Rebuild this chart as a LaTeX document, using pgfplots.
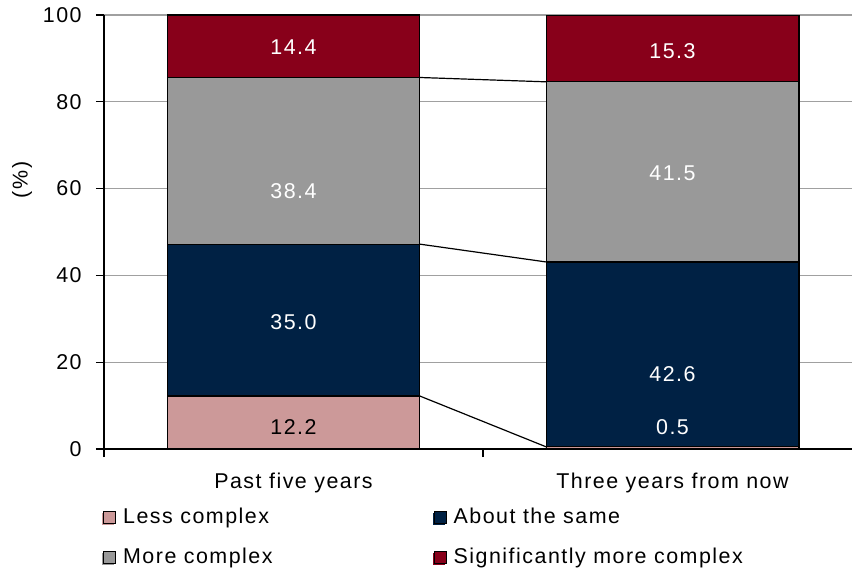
\documentclass[border=0pt]{standalone}
\usepackage{fontspec}
\setmainfont[LetterSpace=7]{Liberation Sans}
\usepackage{pgfplots}
\pgfplotsset{compat=1.18}

\definecolor{lesscx}{RGB}{204,153,153}
\definecolor{samecx}{RGB}{0,33,68}
\definecolor{morecx}{RGB}{153,153,153}
\definecolor{sigcx}{RGB}{136,0,26}
\definecolor{gridgray}{RGB}{160,160,160}

\pgfplotsset{
  chartbase/.style={
    scale only axis, width=758bp, height=434bp,
    xmin=0, xmax=2, ymin=0, ymax=100,
  },
}

\begin{document}
\fontsize{21.5}{25}\selectfont
\begin{tikzpicture}
\begin{axis}[chartbase, name=ax,
  ybar stacked, bar width=0.667,
  /pgf/number format/assume math mode=true,
  axis x line*=bottom, axis y line*=left,
  axis line style={line width=1.3bp, black},
  ytick={0,20,...,100},
  ymajorgrids, grid style={gridgray, line width=1.3bp},
  tick align=outside,
  major tick length=8bp, minor tick length=8bp,
  tick style={black, line width=1.3bp},
  xtick={0.5,1.5},
  xticklabels={Past five years, Three years from now},
  major x tick style={draw=none},
  minor xtick={0,1,2},
  xticklabel style={yshift=-9bp},
  yticklabel style={xshift=-7bp},
  every axis plot/.append style={draw=black, line width=1.2bp},
  legend columns=2,
  legend cell align=left,
  legend style={draw=none, fill=none, inner sep=0pt,
    at={(axis description cs:0,0)}, anchor=north west,
    xshift=-2bp, yshift=-57bp,
    nodes={inner ysep=2bp, inner xsep=3bp},
    row sep=17bp,
    /tikz/every odd column/.append style={column sep=4bp},
    /tikz/every even column/.append style={column sep=157bp}},
  legend image code/.code={
    \fill[#1, draw=none] (-1.5bp,-7.5bp) rectangle (10.5bp,4.5bp);
    \draw[#1, draw=black, line width=0.9bp] (0,-6bp) rectangle (12bp,6bp);
  },
]
\addplot[fill=lesscx] coordinates {(0.5,12.2) (1.5,0.5)};
\addlegendentry{Less complex}
\addplot[fill=samecx] coordinates {(0.5,35.0) (1.5,42.6)};
\addlegendentry{About the same}
\addplot[fill=morecx] coordinates {(0.5,38.4) (1.5,41.5)};
\addlegendentry{More complex}
\addplot[fill=sigcx] coordinates {(0.5,14.4) (1.5,15.3)};
\addlegendentry{Significantly more complex}
\end{axis}

% series lines joining the stack boundaries, and the segment values
\begin{axis}[chartbase, hide axis, clip=false]
\addplot[black, line width=1.2bp, no marks] coordinates {(0.8335,12.2) (1.1665,0.5)};
\addplot[black, line width=1.2bp, no marks] coordinates {(0.8335,47.2) (1.1665,43.1)};
\addplot[black, line width=1.2bp, no marks] coordinates {(0.8335,85.6) (1.1665,84.6)};
\node[black] at (axis cs:0.5,5.1) {12.2};
\node[white] at (axis cs:0.5,29.3) {35.0};
\node[white] at (axis cs:0.5,59.4) {38.4};
\node[white] at (axis cs:0.5,92.6) {14.4};
\node[white] at (axis cs:1.5,5.1) {0.5};
\node[white] at (axis cs:1.5,17.3) {42.6};
\node[white] at (axis cs:1.5,63.6) {41.5};
\node[white] at (axis cs:1.5,91.7) {15.3};
\node[rotate=90] at (axis description cs:-0.108,0.62) {(\%)};
\end{axis}

\pgfresetboundingbox
\useasboundingbox ([xshift=-104bp,yshift=-127bp]ax.south west) rectangle ([xshift=748bp,yshift=15bp]ax.north west);
\end{tikzpicture}
\end{document}
